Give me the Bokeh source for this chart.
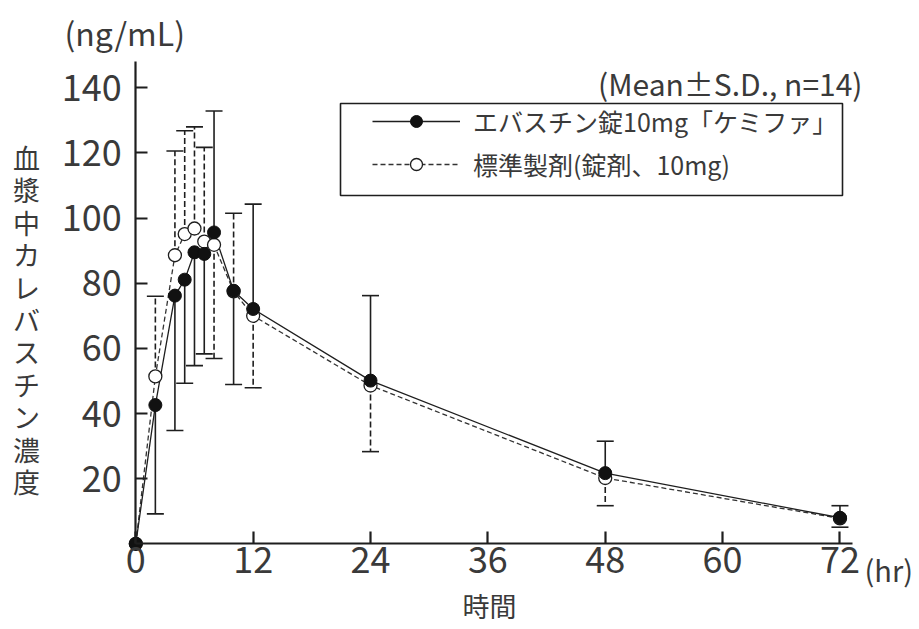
from bokeh.plotting import figure
from bokeh.models import Label, Legend, LegendItem, FixedTicker, BoxAnnotation, Range1d
from bokeh.embed import file_html
from bokeh.resources import INLINE

# ---------------- data ----------------
time_hr = [0, 2, 4, 5, 6, 7, 8, 10, 12, 24, 48, 72]
test_mean = [0, 42.6, 76.2, 81.1, 89.5, 89.0, 95.6, 77.7, 72.1, 50.1, 21.7, 8.0]
test_sd = [0, 33.4, 41.4, 31.8, 34.8, 30.7, 37.3, 28.8, 32.2, 26.1, 9.8, 3.7]
test_sd_dir = [0, -1, -1, -1, -1, -1, 1, -1, 1, 1, 1, 1]
ref_mean = [0, 51.4, 88.6, 95.1, 96.8, 92.8, 91.8, 77.5, 70.0, 48.6, 20.2, 7.8]
ref_sd = [0, 24.6, 32.0, 31.7, 31.2, 28.9, 34.9, 24.0, 22.1, 20.3, 8.5, 2.7]
ref_sd_dir = [0, 1, 1, 1, 1, 1, -1, 1, -1, -1, -1, -1]

x_ticks = [0, 12, 24, 36, 48, 60, 72]
y_ticks = [20, 40, 60, 80, 100, 120, 140]

test_label = "エバスチン錠10mg「ケミファ」"
ref_label = "標準製剤(錠剤、10mg)"
y_title = "血漿中カレバスチン濃度"
x_title = "時間"
y_unit = "(ng/mL)"
x_unit = "(hr)"
note = "(Mean±S.D., n=14)"

FONT = "Noto Sans CJK JP"
TXT = "#3a3a3a"
INK = "#1e1e1e"

# ---------------- layout (frame covers the whole canvas) ----------------
W, H, M = 917, 627, 0            # figure size, page offset
X0, PX_HR = 135.3, 9.78          # page x of t=0, pixels per hour
Y0, PX_NG = 543.3, 3.257         # page y of 0 ng/mL, pixels per ng/mL

x_lo = (M - X0) / PX_HR
x_hi = (M + W - X0) / PX_HR
y_hi = (Y0 - M) / PX_NG
y_lo = (Y0 - (M + H)) / PX_NG

def sx(page_x):
    return page_x - M

def sy(page_y):
    return (M + H) - page_y

p = figure(
    width=W, height=H, min_border=0,
    x_range=Range1d(x_lo, x_hi), y_range=Range1d(y_lo, y_hi),
    output_backend="svg", toolbar_location=None,
)
p.outline_line_color = None
p.xgrid.visible = False
p.ygrid.visible = False
p.background_fill_color = "white"
p.border_fill_color = "white"

for ax, ticks, bnd in ((p.xaxis, x_ticks, (0, 73.3)), (p.yaxis, y_ticks, (0, 148))):
    ax.ticker = FixedTicker(ticks=ticks)
    ax.fixed_location = 0
    ax.bounds = bnd
    ax.axis_line_width = 2.2
    ax.axis_line_color = INK
    ax.major_tick_line_width = 2.2
    ax.major_tick_line_color = INK
    ax.major_tick_in = 12
    ax.major_tick_out = 0
    ax.minor_tick_line_color = None
    ax.major_label_text_font = FONT
    ax.major_label_text_font_size = "36px"
    ax.major_label_text_color = TXT
p.xaxis.major_label_standoff = 3
p.yaxis.major_label_standoff = 14

# ---------------- data lines ----------------
ref_line = p.line(time_hr, ref_mean, line_color="#333333", line_width=1.3, line_dash="5 3")
test_line = p.line(time_hr, test_mean, line_color=INK, line_width=1.3)

def err(mean, sd, d):
    xs, y0, y1 = [], [], []
    for t, m, s, k in zip(time_hr, mean, sd, d):
        if s > 0:
            xs.append(t)
            y0.append(m)
            y1.append(m + k * s)
    return xs, y0, y1

rx, ry0, ry1 = err(ref_mean, ref_sd, ref_sd_dir)
tx, ty0, ty1 = err(test_mean, test_sd, test_sd_dir)

p.segment(rx, ry0, rx, ry1, line_color=INK, line_width=1.6, line_dash="6 3")
p.scatter(rx, ry1, marker="dash", size=17, line_color=INK, line_width=1.6)
p.segment(tx, ty0, tx, ty1, line_color=INK, line_width=1.6)
p.scatter(tx, ty1, marker="dash", size=17, line_color=INK, line_width=1.6)

ref_pts = p.scatter(time_hr, ref_mean, marker="circle", size=13,
                    fill_color="white", line_color=INK, line_width=1.3)
test_pts = p.scatter(time_hr, test_mean, marker="circle", size=13,
                     fill_color="#111111", line_color="#111111", line_width=1.0)

# ---------------- legend ----------------
box = BoxAnnotation(left=sx(340), right=sx(842), top=sy(103), bottom=sy(195),
                    left_units="screen", right_units="screen",
                    top_units="screen", bottom_units="screen",
                    fill_alpha=0, line_color=INK, line_alpha=1.0, line_width=1.6)
p.add_layout(box)

legend = Legend(
    items=[LegendItem(label=test_label, renderers=[test_line, test_pts]),
           LegendItem(label=ref_label, renderers=[ref_line, ref_pts])],
    location=(sx(372), sy(182)), margin=0, padding=0, spacing=7,
    glyph_width=88, glyph_height=30, label_height=30, label_standoff=13,
    label_text_font=FONT, label_text_font_size="25px", label_text_color=TXT,
    border_line_alpha=0, background_fill_alpha=0,
)
p.add_layout(legend)

# ---------------- texts ----------------
def lab(text, px, py, size, align="left", baseline="middle"):
    p.add_layout(Label(text=text, x=sx(px), y=sy(py), x_units="screen", y_units="screen",
                       text_font=FONT, text_font_size=size, text_color=TXT,
                       text_align=align, text_baseline=baseline))

lab(y_unit, 64, 31, "32px")
lab(note, 862, 82, "30px", align="right")
lab(x_title, 489, 605, "27px", align="center")
lab(x_unit, 864, 568, "29px")
for i, ch in enumerate(y_title):      # upright, stacked vertical title
    lab(ch, 26, 157 + i * 32.4, "27px", align="center")

open("out.html", "w").write(file_html(p, INLINE))
